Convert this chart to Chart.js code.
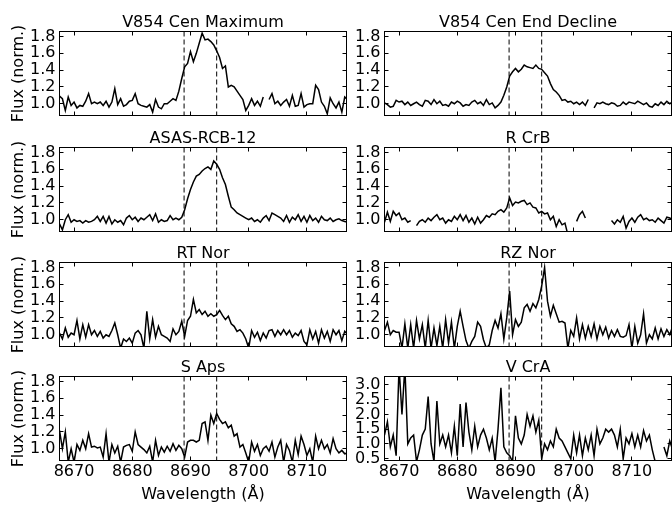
<!DOCTYPE html>
<html>
<head>
<meta charset="utf-8">
<script src="https://cdn.jsdelivr.net/npm/chart.js@4/dist/chart.umd.min.js"></script>
<style>
  html, body { margin: 0; padding: 0; background: #fff; }
  #wrap { position: relative; width: 672px; height: 505px; overflow: hidden; }
  #wrap canvas { position: absolute; left: 0; top: 0; }
</style>
</head>
<body>
<div id="wrap">
  <canvas id="c0" width="672" height="505"></canvas>
  <canvas id="c1" width="672" height="505"></canvas>
  <canvas id="c2" width="672" height="505"></canvas>
  <canvas id="c3" width="672" height="505"></canvas>
  <canvas id="c4" width="672" height="505"></canvas>
  <canvas id="c5" width="672" height="505"></canvas>
  <canvas id="c6" width="672" height="505"></canvas>
  <canvas id="c7" width="672" height="505"></canvas>
</div>
<script>
// ---------------- data ----------------
const wavelength = [
  8667.5,8668.0,8668.5,8669.0,8669.5,8670.0,8670.5,8671.0,8671.5,8672.0,
  8672.5,8673.0,8673.5,8674.0,8674.5,8675.0,8675.5,8676.0,8676.5,8677.0,
  8677.5,8678.0,8678.5,8679.0,8679.5,8680.0,8680.5,8681.0,8681.5,8682.0,
  8682.5,8683.0,8683.5,8684.0,8684.5,8685.0,8685.5,8686.0,8686.5,8687.0,
  8687.5,8688.0,8688.5,8689.0,8689.5,8690.0,8690.5,8691.0,8691.5,8692.0,
  8692.5,8693.0,8693.5,8694.0,8694.5,8695.0,8695.5,8696.0,8696.5,8697.0,
  8697.5,8698.0,8698.5,8699.0,8699.5,8700.0,8700.5,8701.0,8701.5,8702.0,
  8702.5,8703.0,8703.5,8704.0,8704.5,8705.0,8705.5,8706.0,8706.5,8707.0,
  8707.5,8708.0,8708.5,8709.0,8709.5,8710.0,8710.5,8711.0,8711.5,8712.0,
  8712.5,8713.0,8713.5,8714.0,8714.5,8715.0,8715.5,8716.0,8716.5,8717.0
];

const titles = ["V854 Cen Maximum", "V854 Cen End Decline", "ASAS-RCB-12", "R CrB",
                "RT Nor", "RZ Nor", "S Aps", "V CrA"];

const v854Max = [
  1.09,1.06,0.92,1.08,0.98,1.02,0.95,0.98,0.97,1.03,
  1.12,1.00,1.02,1.00,1.02,0.98,1.03,0.96,1.02,1.18,
  0.99,1.06,0.97,0.99,1.03,1.04,1.12,1.00,0.98,0.97,
  0.96,0.99,0.90,1.05,0.96,0.94,1.00,1.00,1.03,1.06,
  1.04,1.15,1.30,1.44,1.48,1.62,1.50,1.60,1.72,1.84,
  1.76,1.77,1.74,1.70,1.63,1.55,1.42,1.45,1.20,1.22,
  1.20,1.15,1.10,1.05,0.92,0.98,1.06,0.98,1.03,0.97,
  1.08,null,1.05,1.12,1.00,1.03,0.98,1.02,1.05,0.97,
  1.10,0.97,0.98,1.12,0.96,0.99,1.00,1.00,1.22,1.17,
  1.02,0.97,0.88,1.07,1.00,0.95,1.02,0.90,1.08,1.05
];
const v854End = [
  1.01,0.99,0.96,0.97,1.04,1.02,1.03,0.99,1.02,0.98,
  1.00,1.02,0.99,0.97,1.04,1.03,0.99,1.05,1.00,1.03,
  0.98,0.99,0.97,1.02,1.00,1.03,1.01,0.97,0.99,0.98,
  1.02,1.04,1.00,1.02,0.98,1.05,0.99,1.01,0.95,0.98,
  1.02,1.10,1.20,1.33,1.38,1.42,1.38,1.41,1.46,1.44,
  1.43,1.42,1.46,1.42,1.41,1.37,1.33,1.24,1.17,1.14,
  1.10,1.04,1.05,1.02,1.03,1.00,1.02,0.99,1.02,0.98,
  1.05,null,0.95,1.01,1.00,1.02,1.00,0.99,1.01,1.00,
  0.97,0.98,1.02,0.99,1.02,1.01,1.00,1.03,1.01,0.99,
  1.01,0.97,0.96,1.00,0.98,1.02,0.99,1.03,1.00,1.02
];
const asasRcb12 = [
  0.95,0.88,1.00,1.06,0.97,1.00,0.98,0.99,0.96,0.99,
  0.97,0.98,1.00,1.04,0.98,1.04,0.96,1.04,0.95,1.00,
  0.97,0.99,0.94,1.02,1.05,1.00,1.03,0.98,1.02,1.00,
  1.03,1.06,0.99,1.07,0.97,1.00,0.98,0.99,1.05,1.00,
  1.02,1.00,1.03,1.12,1.25,1.36,1.45,1.52,1.54,1.58,
  1.61,1.63,1.60,1.70,1.66,1.60,1.50,1.42,1.28,1.15,
  1.12,1.08,1.06,1.04,1.02,1.00,1.02,0.98,1.00,0.97,
  1.02,1.05,0.99,1.08,1.06,1.04,1.02,0.98,1.05,0.97,
  1.03,1.00,1.06,0.98,1.04,0.97,1.05,0.99,1.02,0.97,
  1.04,1.00,0.99,1.02,0.98,1.00,1.01,0.99,0.98,0.97
];
const rCrB = [
  0.97,1.09,0.98,1.10,1.05,1.08,1.00,1.02,0.97,0.99,
  null,0.93,0.98,1.00,0.97,1.02,0.99,1.03,1.06,1.00,
  1.02,0.96,1.00,0.98,1.04,1.00,1.06,0.99,1.05,0.97,
  1.02,0.95,1.03,0.96,1.00,1.05,1.03,1.07,1.06,1.10,
  1.12,1.09,1.14,1.26,1.17,1.21,1.20,1.22,1.23,1.18,
  1.20,1.15,1.14,1.08,1.10,1.07,1.08,1.00,1.04,0.92,
  1.00,0.94,0.96,0.82,null,null,0.98,1.06,1.10,1.02,
  null,null,null,null,null,null,null,null,0.99,0.95,
  1.00,0.97,1.04,0.90,0.98,1.02,0.97,1.03,1.06,1.00,
  1.02,0.99,1.00,0.97,1.02,0.99,0.96,1.03,1.02,1.00
];
const rtNor = [
  1.02,0.95,1.08,0.97,1.02,1.00,1.17,0.95,1.12,0.97,
  1.12,1.00,1.05,0.98,1.04,0.96,1.00,0.98,1.05,1.14,
  1.00,0.84,0.95,0.92,0.96,0.90,1.02,1.05,1.00,0.84,
  1.28,0.95,1.18,0.97,1.10,1.00,0.98,0.96,0.92,1.07,
  1.00,1.04,1.16,0.98,1.17,1.22,1.42,1.26,1.30,1.24,
  1.28,1.22,1.25,1.22,1.24,1.29,1.23,1.18,1.22,1.13,
  1.10,1.04,1.06,1.02,0.95,0.84,1.05,0.97,1.03,0.93,
  1.02,0.96,1.05,1.06,0.98,1.05,1.00,1.06,1.00,1.05,
  0.97,1.02,0.99,1.05,0.92,0.88,1.06,0.95,1.04,0.90,
  1.06,0.96,1.04,0.92,1.06,1.00,1.05,0.93,1.04,1.00
];
const rzNor = [
  1.05,1.15,1.00,1.05,1.03,1.03,0.84,1.13,0.84,1.12,
  0.84,1.17,0.95,1.12,0.84,1.17,0.84,1.08,0.87,1.10,
  0.84,1.18,0.90,1.15,0.84,1.10,1.28,1.10,0.93,0.84,
  0.92,0.98,1.15,1.10,0.94,0.84,0.88,1.05,1.17,1.08,
  1.25,0.95,1.20,1.52,1.00,1.18,1.10,1.15,1.32,1.36,
  1.28,1.37,1.32,1.42,1.58,1.80,1.40,1.22,1.35,1.25,
  1.15,1.16,1.14,0.84,1.05,0.98,1.20,0.95,1.12,0.96,
  1.10,0.98,1.13,0.95,1.10,1.00,1.09,0.96,1.05,0.98,
  1.06,0.98,0.97,0.99,1.12,0.84,1.10,0.90,1.00,1.25,
  0.90,1.00,0.95,1.08,0.95,1.07,0.98,1.06,1.00,1.10
];
const sAps = [
  1.22,1.00,1.20,0.84,1.00,0.84,1.05,0.98,1.10,1.00,
  1.18,1.02,1.03,1.01,1.02,0.90,1.18,0.84,1.05,0.95,
  1.03,0.84,1.02,1.04,1.05,0.97,1.20,1.05,1.02,0.99,
  0.95,1.03,0.84,1.10,0.92,1.02,0.96,1.03,0.97,1.06,
  0.98,1.04,1.00,0.90,1.08,1.10,1.10,1.08,1.10,1.30,
  1.32,1.10,1.40,1.30,1.42,1.35,1.30,1.32,1.25,1.28,
  1.15,1.18,1.02,1.05,0.95,0.84,1.08,0.97,1.05,0.92,
  1.00,1.03,0.97,1.08,0.90,1.02,1.10,0.84,1.05,0.98,
  0.84,1.10,0.93,1.15,1.05,0.92,1.00,0.84,1.15,1.00,
  1.10,1.00,1.05,0.95,1.12,1.00,0.95,0.98,0.94,0.95
];
const vCrA = [
  1.30,1.75,0.90,1.30,0.60,3.60,2.00,3.60,1.00,1.20,
  1.30,0.40,0.80,1.30,1.50,2.60,1.00,0.40,2.45,1.00,
  1.30,0.90,1.30,0.70,1.60,0.60,2.35,0.90,2.40,1.40,
  0.80,1.60,0.90,1.30,1.50,1.20,0.80,1.20,0.40,1.50,
  2.90,0.90,0.70,0.60,0.40,1.95,1.20,1.00,1.30,2.00,
  1.60,1.95,1.40,1.80,0.50,1.00,0.80,1.10,0.90,1.50,
  1.20,1.10,0.90,0.70,0.50,1.30,0.70,1.30,0.60,1.20,
  0.80,1.30,0.60,1.50,1.00,1.20,1.50,1.40,1.50,1.30,
  0.90,1.50,0.50,1.20,1.00,1.35,0.90,1.30,0.90,1.45,
  1.10,1.30,0.80,0.40,null,null,0.90,0.60,1.10,0.80
];

const xTickValues = [8670, 8680, 8690, 8700, 8710];
const yTickValues = [1.0, 1.2, 1.4, 1.6, 1.8];
const yTickValuesVCrA = [0.5, 1.0, 1.5, 2.0, 2.5, 3.0];
const markerLines = [8688.9, 8694.5];

// ---------------- layout / style ----------------
const X_MIN = 8667.5, X_MAX = 8716.8;
const Y_RANGE = [0.86, 1.86];
const Y_RANGE_VCRA = [0.44, 3.28];
const W = 672, H = 505;
const colLeft = [59.5, 384.5], colRight = [346.5, 671.5];
const rowTop = [31.5, 147.5, 262.5, 376.5], rowH = 84;

Chart.defaults.font.family = "'DejaVu Sans', 'Liberation Sans', sans-serif";
Chart.defaults.font.size = 16;
Chart.defaults.color = '#000';

const framePlugin = {
  id: 'frame',
  beforeDatasetsDraw(chart) {
    const {ctx, chartArea: a, scales: {x}} = chart;
    ctx.save();
    ctx.strokeStyle = '#000';
    ctx.lineWidth = 1;
    ctx.setLineDash([5, 3]);
    for (const w of markerLines) {
      const px = x.getPixelForValue(w);
      ctx.beginPath(); ctx.moveTo(px, a.top); ctx.lineTo(px, a.bottom); ctx.stroke();
    }
    ctx.restore();
  },
  afterDatasetsDraw(chart, args, opts) {
    const {ctx, chartArea: a, scales: {x, y}} = chart;
    const snap = v => Math.round(v - 0.5) + 0.5;
    ctx.save();
    ctx.strokeStyle = '#000';
    ctx.lineWidth = 1;
    ctx.setLineDash([]);
    ctx.beginPath();
    const tl = 4;
    for (const v of xTickValues) {
      const px = snap(x.getPixelForValue(v));
      ctx.moveTo(px, a.bottom); ctx.lineTo(px, a.bottom - tl);
      ctx.moveTo(px, a.top); ctx.lineTo(px, a.top + tl);
    }
    for (const v of opts.yTicks) {
      const py = snap(y.getPixelForValue(v));
      ctx.moveTo(a.left, py); ctx.lineTo(a.left + tl, py);
      ctx.moveTo(a.right, py); ctx.lineTo(a.right - tl, py);
    }
    ctx.stroke();
    ctx.strokeRect(a.left, a.top, a.right - a.left, a.bottom - a.top);
    ctx.restore();
  }
};

const panels = [
  {values: v854Max},
  {values: v854End},
  {values: asasRcb12},
  {values: rCrB},
  {values: rtNor},
  {values: rzNor},
  {values: sAps},
  {values: vCrA}
];

panels.forEach((p, k) => {
  const col = k % 2, row = Math.floor(k / 2);
  const isBottom = row === 3;
  const isLeft = col === 0;
  const isVCrA = k === 7;
  const yTicks = isVCrA ? yTickValuesVCrA : yTickValues;
  const yr = isVCrA ? Y_RANGE_VCRA : Y_RANGE;
  const yAxisW = isLeft ? colLeft[0] : 40;
  const xAxisH = isBottom ? 44.5 : 0;
  const titleBlock = 16.5;
  const top = rowTop[row], bottom = top + rowH;

  new Chart(document.getElementById('c' + k), {
    type: 'line',
    data: {
      datasets: [{
        data: wavelength.map((w, i) => ({x: w, y: p.values[i]})),
        borderColor: '#000',
        borderWidth: 1.5,
        pointRadius: 0,
        tension: 0,
        spanGaps: false,
        fill: false
      }]
    },
    options: {
      responsive: false,
      animation: false,
      devicePixelRatio: 1,
      events: [],
      layout: {
        padding: {
          left: colLeft[col] - yAxisW,
          right: W - colRight[col],
          top: top - titleBlock,
          bottom: H - bottom - xAxisH
        }
      },
      plugins: {
        legend: {display: false},
        tooltip: {enabled: false},
        title: {
          display: true,
          text: titles[k],
          fullSize: false,
          color: '#000',
          font: {size: 16, weight: 'normal', lineHeight: 1},
          padding: {top: 0, bottom: 0.5}
        },
        frame: {yTicks: yTicks}
      },
      scales: {
        x: {
          type: 'linear',
          min: X_MIN,
          max: X_MAX,
          grid: {display: false, drawTicks: false},
          border: {display: false},
          afterBuildTicks: s => { s.ticks = xTickValues.map(v => ({value: v})); },
          afterFit: s => { s.height = xAxisH; },
          ticks: {
            display: isBottom,
            padding: 2,
            font: {size: 16},
            color: '#000',
            maxRotation: 0,
            autoSkip: false,
            callback: v => String(v)
          },
          title: {
            display: isBottom,
            text: 'Wavelength (Å)',
            color: '#000',
            font: {size: 16},
            padding: {top: 0, bottom: 0.5}
          }
        },
        y: {
          type: 'linear',
          min: yr[0],
          max: yr[1],
          grid: {display: false, drawTicks: false},
          border: {display: false},
          afterBuildTicks: s => { s.ticks = yTicks.map(v => ({value: v})); },
          afterFit: s => { s.width = yAxisW; },
          ticks: {
            padding: 4,
            font: {size: 16},
            color: '#000',
            autoSkip: false,
            callback: v => Number(v).toFixed(1)
          },
          title: {
            display: isLeft,
            text: 'Flux (norm.)',
            color: '#000',
            font: {size: 16},
            padding: {top: 9.5, bottom: 0}
          }
        }
      }
    },
    plugins: [framePlugin]
  });
});
</script>
</body>
</html>
